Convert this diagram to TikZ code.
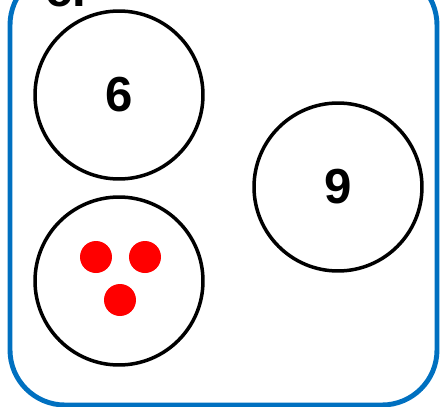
\documentclass[tikz,border=0pt]{standalone}
\usepackage{fontspec}
\setmainfont{Liberation Sans}
\usetikzlibrary{positioning}
\definecolor{cB}{RGB}{0,112,192}
\definecolor{cR}{RGB}{255,0,0}

\begin{document}
\begin{tikzpicture}[x=0.02cm, y=-0.02cm,
   set/.style={circle, draw, line width=2pt, minimum size=3.36cm, inner sep=0pt,
      font=\fontsize{28}{28}\selectfont\bfseries},
   counter/.style={circle, fill=cR, inner sep=0pt, minimum size=0.64cm}]
   \useasboundingbox (0,0) rectangle (441,407);
   % Frame of the exercise, its top is cut off
   \draw[cB, line width=2.8pt, rounded corners=1.1cm] (10,-30) rectangle (437,405);
   \node[anchor=base west, inner sep=0pt, font=\fontsize{28}{28}\selectfont\bfseries] (lbl) at (45,6) {c.};

   % Sets
   \node[set] (six) at (119,95) {6};
   \node[set] (nine) at (338,187) {9};
   \node[set] (box) at (119,281) {};

   % Counters in the lower set
   \node[counter] (c1) at (96,257) {};
   \node[counter] (c2) at (145,257) {};
   \node[counter] (c3) at (120,300) {};
\end{tikzpicture}
\end{document}
